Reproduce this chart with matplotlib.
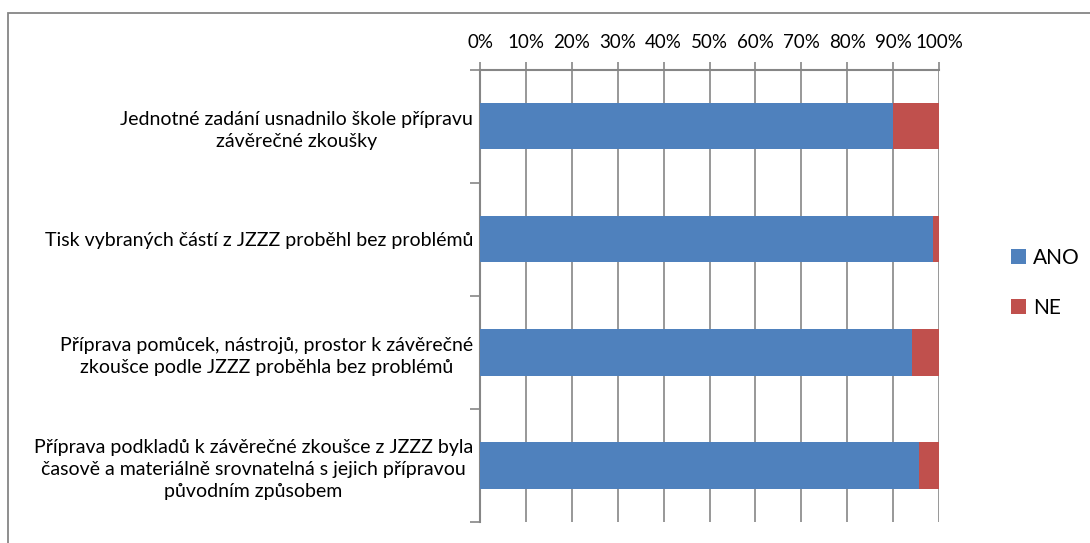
import matplotlib
matplotlib.use("Agg")
import matplotlib.pyplot as plt
from matplotlib.patches import Rectangle, Patch
import numpy as np

plt.rcParams['font.family'] = ['Lato', 'DejaVu Sans']

categories = [
    "Jednotné zadání usnadnilo škole přípravu\nzávěrečné zkoušky",
    "Tisk vybraných částí z JZZZ proběhl bez problémů",
    "Příprava pomůcek, nástrojů, prostor k závěrečné\nzkoušce podle JZZZ proběhla bez problémů",
    "Příprava podkladů k závěrečné zkoušce z JZZZ byla\nčasově a materiálně srovnatelná s jejich přípravou\npůvodním způsobem",
]
ano = [90.0, 98.8, 94.2, 95.7]
ne = [10.0, 1.2, 5.8, 4.3]
tick_vals = [0, 10, 20, 30, 40, 50, 60, 70, 80, 90, 100]
tick_labels = [f"{v}%" for v in tick_vals]

W, H = 1090, 543
fig = plt.figure(figsize=(W / 100, H / 100), dpi=100)

# outer chart border (cut off at right and bottom)
fig.add_artist(Rectangle((8 / W, -0.1), 1.2, 1 - 13 / H + 0.1, transform=fig.transFigure,
                         fill=False, edgecolor='#868686', linewidth=1.3))

ax = fig.add_axes([480 / W, 1 - 522 / H, (939 - 480) / W, (522 - 69.5) / H])

blue = '#4F81BD'
red = '#C0504D'
y = np.arange(len(categories))
h = 0.41
ax.barh(y, ano, height=h, color=blue, label='ANO', zorder=3)
ax.barh(y, ne, left=ano, height=h, color=red, label='NE', zorder=3)

ax.set_xlim(0, 100)
ax.set_ylim(len(categories) - 0.5, -0.5)

grid_c = '#868686'
ax.xaxis.tick_top()
ax.set_xticks(tick_vals)
ax.set_xticklabels(tick_labels, fontsize=13.5)
ax.tick_params(axis='x', direction='out', length=6, width=1.2, color=grid_c, pad=7)
ax.grid(axis='x', color=grid_c, linewidth=1.2, zorder=0)

ax.set_yticks(y)
ax.set_yticklabels(categories, fontsize=14, multialignment='center', linespacing=1.38)
ax.tick_params(axis='y', length=0, pad=5)
ax.set_yticks(np.arange(-0.5, len(categories), 1.0), minor=True)
ax.tick_params(axis='y', which='minor', length=7, width=1.2, color=grid_c, direction='out')

for s in ['right', 'bottom']:
    ax.spines[s].set_visible(False)
for s in ['left', 'top']:
    ax.spines[s].set_color(grid_c)
    ax.spines[s].set_linewidth(1.5)

handles = [Patch(facecolor=blue), Patch(facecolor=red)]
fig.legend(handles, ['ANO', 'NE'], loc='center left', bbox_to_anchor=(992 / W, 1 - 283 / H),
           frameon=False, fontsize=15, handlelength=0.72, handleheight=0.72,
           handletextpad=0.35, labelspacing=1.45)

fig.savefig("out.png", dpi=100)
